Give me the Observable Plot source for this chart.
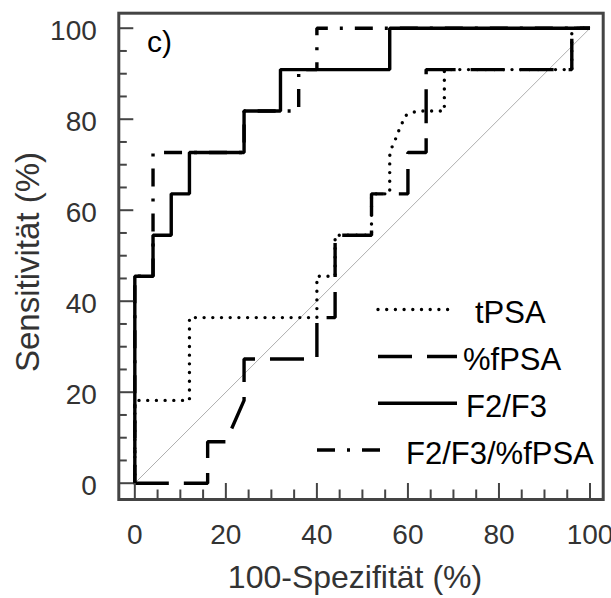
<!DOCTYPE html>
<html><head><meta charset="utf-8">
<script src="https://cdn.jsdelivr.net/npm/d3@7"></script>
<script src="https://cdn.jsdelivr.net/npm/@observablehq/plot@0.6"></script>
<style>html,body{margin:0;padding:0;background:#fff} svg{display:block}</style>
</head><body><div id="chart"></div>
<script>
// ---- data ----
const panelLabel = "c)";
const xTitle = "100-Spezifität (%)";
const yTitle = "Sensitivität (%)";
const majorTicks = [0, 20, 40, 60, 80, 100];
const minorTicks = [5, 10, 15, 25, 30, 35, 45, 50, 55, 65, 70, 75, 85, 90, 95];
const diagonal = [0, 100];
const seriesNames = ["tPSA", "%fPSA", "F2/F3", "F2/F3/%fPSA"];

const tpsaX = [0, 0, 12, 12, 40, 40, 44, 44, 52, 52, 56, 56, 56.6, 57.3, 58, 58.8, 59.5, 61, 62.4, 68, 68, 96, 96, 100];
const tpsaY = [0, 18.2, 18.2, 36.4, 36.4, 45.5, 45.5, 54.5, 54.5, 63.6, 63.6, 72, 74.2, 75.7, 77.5, 79.3, 80.8, 81.5, 81.8, 81.8, 90.9, 90.9, 100, 100];

const fpsaX = [0, 16, 16, 20, 24, 24, 40, 40, 44, 44, 52, 52, 60, 60, 64, 64, 96, 96, 100];
const fpsaY = [0, 0, 9.1, 9.1, 18.2, 27.3, 27.3, 36.4, 36.4, 54.5, 54.5, 63.6, 63.6, 72.7, 72.7, 90.9, 90.9, 100, 100];

const f23X = [0, 0, 4, 4, 8, 8, 12, 12, 24, 24, 32, 32, 56, 56, 100];
const f23Y = [0, 45.5, 45.5, 54.5, 54.5, 63.6, 63.6, 72.7, 72.7, 81.8, 81.8, 90.9, 90.9, 100, 100];

const comboX = [0, 0, 4, 4, 24, 24, 36, 36, 40, 40, 100];
const comboY = [0, 45.5, 45.5, 72.7, 72.7, 81.8, 81.8, 90.9, 90.9, 100, 100];

// ---- layout ----
const W = 611, H = 598;
const mL = 118.3, mR = 8.3, mT = 12.7, mB = 99;
const innerW = W - mL - mR, innerH = H - mT - mB;
const FONT = '"Liberation Sans", Arial, Helvetica, sans-serif';
const pts = (xs, ys) => xs.map((x, i) => ({x, y: ys[i]}));

const styles = [
  {dash: "0 8.7", cap: "round", join: "round"},
  {dash: "34 15", cap: "butt", join: "miter"},
  {dash: null, cap: "butt", join: "miter"},
  {dash: "18 12 3 12", cap: "butt", join: "miter"}
];
const data = [pts(tpsaX, tpsaY), pts(fpsaX, fpsaY), pts(f23X, f23Y), pts(comboX, comboY)];
const LW = 3.4;

const chart = Plot.plot({
  width: W, height: H,
  marginLeft: mL, marginRight: mR, marginTop: mT, marginBottom: mB,
  style: {fontFamily: FONT, background: "white", overflow: "visible"},
  x: {domain: [-3.52, 102.9]},
  y: {domain: [-3.58, 103.3]},
  marks: [
    Plot.line(diagonal, {x: d => d, y: d => d, stroke: "#999", strokeWidth: 0.8}),
    ...data.map((d, i) => Plot.line(d, {
      x: "x", y: "y", stroke: "#000", strokeWidth: LW,
      strokeDasharray: styles[i].dash, strokeLinecap: styles[i].cap, strokeLinejoin: styles[i].join
    })),
    Plot.tickX(minorTicks, {x: d => d, stroke: "#444", strokeWidth: 2, insetTop: innerH - 9.5}),
    Plot.tickX(majorTicks, {x: d => d, stroke: "#444", strokeWidth: 2, insetTop: innerH - 16}),
    Plot.tickY(minorTicks, {y: d => d, stroke: "#444", strokeWidth: 2, insetRight: innerW - 8.5}),
    Plot.tickY(majorTicks, {y: d => d, stroke: "#444", strokeWidth: 2, insetRight: innerW - 15}),
    Plot.axisX({ticks: majorTicks, tickSize: 0, tickPadding: 25, fontSize: 28, label: null, color: "#333"}),
    Plot.axisY({ticks: majorTicks, tickSize: 0, tickPadding: 22, fontSize: 28, label: null, color: "#333", dy: 3}),
    Plot.frame({stroke: "#444", strokeWidth: 3})
  ]
});
document.getElementById("chart").appendChild(chart);

const svg = d3.select(chart);
// axis titles
svg.append("text").attr("x", 355).attr("y", 588).attr("text-anchor", "middle")
  .attr("font-family", FONT).attr("font-size", 32).attr("fill", "#333").text(xTitle);
svg.append("text").attr("transform", "translate(39,262) rotate(-90)").attr("text-anchor", "middle")
  .attr("font-family", FONT).attr("font-size", 33).attr("fill", "#333").text(yTitle);
// panel label
svg.append("text").attr("x", 147).attr("y", 52).attr("text-anchor", "start")
  .attr("font-family", FONT).attr("font-size", 30).attr("fill", "#000").text(panelLabel);
// legend
const leg = [
  {x1: 378, x2: 449, y: 309.5, tx: 475},
  {x1: 378, x2: 457, y: 356.5, tx: 463},
  {x1: 378, x2: 457, y: 403.3, tx: 466},
  {x1: 317, x2: 382, y: 450, tx: 406}
];
const g = svg.append("g");
seriesNames.forEach((name, i) => {
  const L = leg[i], s = styles[i];
  g.append("line").attr("x1", L.x1).attr("x2", L.x2).attr("y1", L.y).attr("y2", L.y)
    .attr("stroke", "#000").attr("stroke-width", LW)
    .attr("stroke-dasharray", s.dash).attr("stroke-linecap", s.cap);
  g.append("text").attr("x", L.tx).attr("y", L.y + 13.7).attr("text-anchor", "start")
    .attr("font-family", FONT).attr("font-size", 31).attr("fill", "#000").text(name);
});
</script>
</body></html>
